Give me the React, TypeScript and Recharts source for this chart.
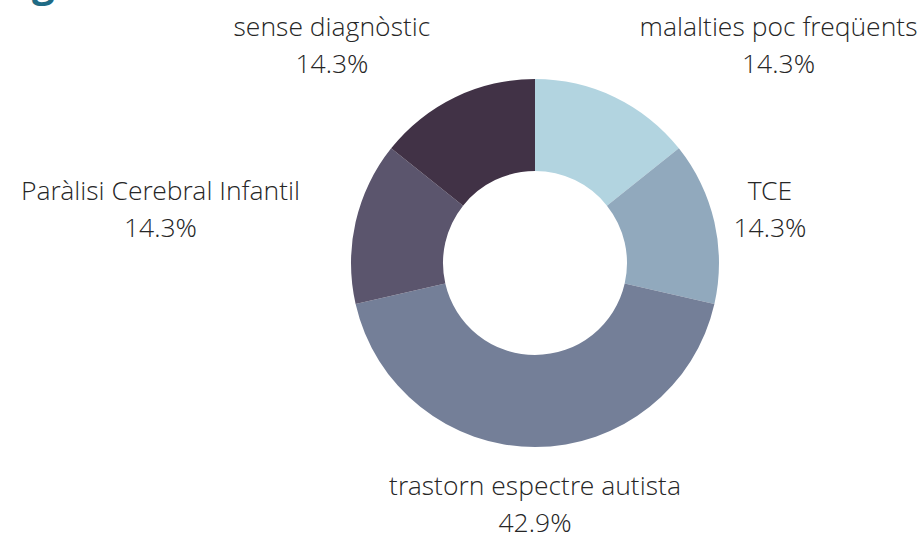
import React from 'react';
import { PieChart, Pie, Cell } from 'recharts';

const categories = [
  'malalties poc freqüents',
  'TCE',
  'trastorn espectre autista',
  'Paràlisi Cerebral Infantil',
  'sense diagnòstic',
];
const counts = [1, 1, 3, 1, 1];
const percentLabels = ['14.3%', '14.3%', '42.9%', '14.3%', '14.3%'];
const colors = ['#b2d4e0', '#91a9bd', '#747f98', '#5b556d', '#413246'];

const data = categories.map((name, i) => ({ name, value: counts[i] }));

const FONT_SIZE = 26.5;
const FONT_FAMILY = '"Open Sans Light", "Open Sans", sans-serif';
const FONT_WEIGHT = 300;
const LINE_GAP = 37;
const LABEL_R = 241;
const TEXT_COLOR = '#262626';

let ctx: CanvasRenderingContext2D | null = null;
function measure(t: string): number {
  if (!ctx) ctx = document.createElement('canvas').getContext('2d');
  if (!ctx) return t.length * FONT_SIZE * 0.5;
  ctx.font = `${FONT_WEIGHT} ${FONT_SIZE}px ${FONT_FAMILY}`;
  return ctx.measureText(t).width;
}

function renderLabel(props: any) {
  const { cx, cy, midAngle, outerRadius, index } = props;
  const RAD = Math.PI / 180;
  const c = Math.cos(-midAngle * RAD);
  const s = Math.sin(-midAngle * RAD);
  const px = cx + LABEL_R * c;
  const py = cy + LABEL_R * s;
  const l1 = categories[index];
  const l2 = percentLabels[index];
  const w = Math.max(measure(l1), measure(l2));
  const h = 60;
  let bx = px;
  const left = bx - w / 2, right = bx + w / 2, top = py - h / 2, bottom = py + h / 2;
  const nx = Math.max(left, Math.min(cx, right));
  const ny = Math.max(top, Math.min(cy, bottom));
  const d = Math.hypot(nx - cx, ny - cy);
  if (d < outerRadius + 12 && Math.abs(c) > 0.05) {
    bx = px + Math.sign(c) * w / 2;
  }
  const b1 = py - LINE_GAP / 2 + 9;
  const st = { fontFamily: FONT_FAMILY, fontSize: FONT_SIZE, fontWeight: FONT_WEIGHT };
  return (
    <g key={`lbl-${index}`}>
      <text x={bx} y={b1} textAnchor="middle" fill={TEXT_COLOR} style={st}>{l1}</text>
      <text x={bx} y={b1 + LINE_GAP} textAnchor="middle" fill={TEXT_COLOR} style={st}>{l2}</text>
    </g>
  );
}

export default function App() {
  return (
    <div style={{ position: 'absolute', left: 0, top: 0, width: 921, height: 533, overflow: 'hidden', background: '#fff' }}>
      <div style={{ position: 'absolute', left: 32, top: -38, fontFamily: '"Open Sans", sans-serif', fontWeight: 700, fontSize: 40, color: '#1f6b85', lineHeight: '40px' }}>g</div>
      <PieChart width={921} height={533} margin={{ top: 0, right: 0, bottom: 0, left: 0 }}>
        <Pie
          data={data}
          dataKey="value"
          nameKey="name"
          cx={535}
          cy={263}
          innerRadius={92}
          outerRadius={184}
          startAngle={90}
          endAngle={-270}
          stroke="none"
          labelLine={false}
          label={renderLabel}
          isAnimationActive={false}
        >
          {data.map((d, i) => (
            <Cell key={d.name} fill={colors[i]} />
          ))}
        </Pie>
      </PieChart>
    </div>
  );
}
